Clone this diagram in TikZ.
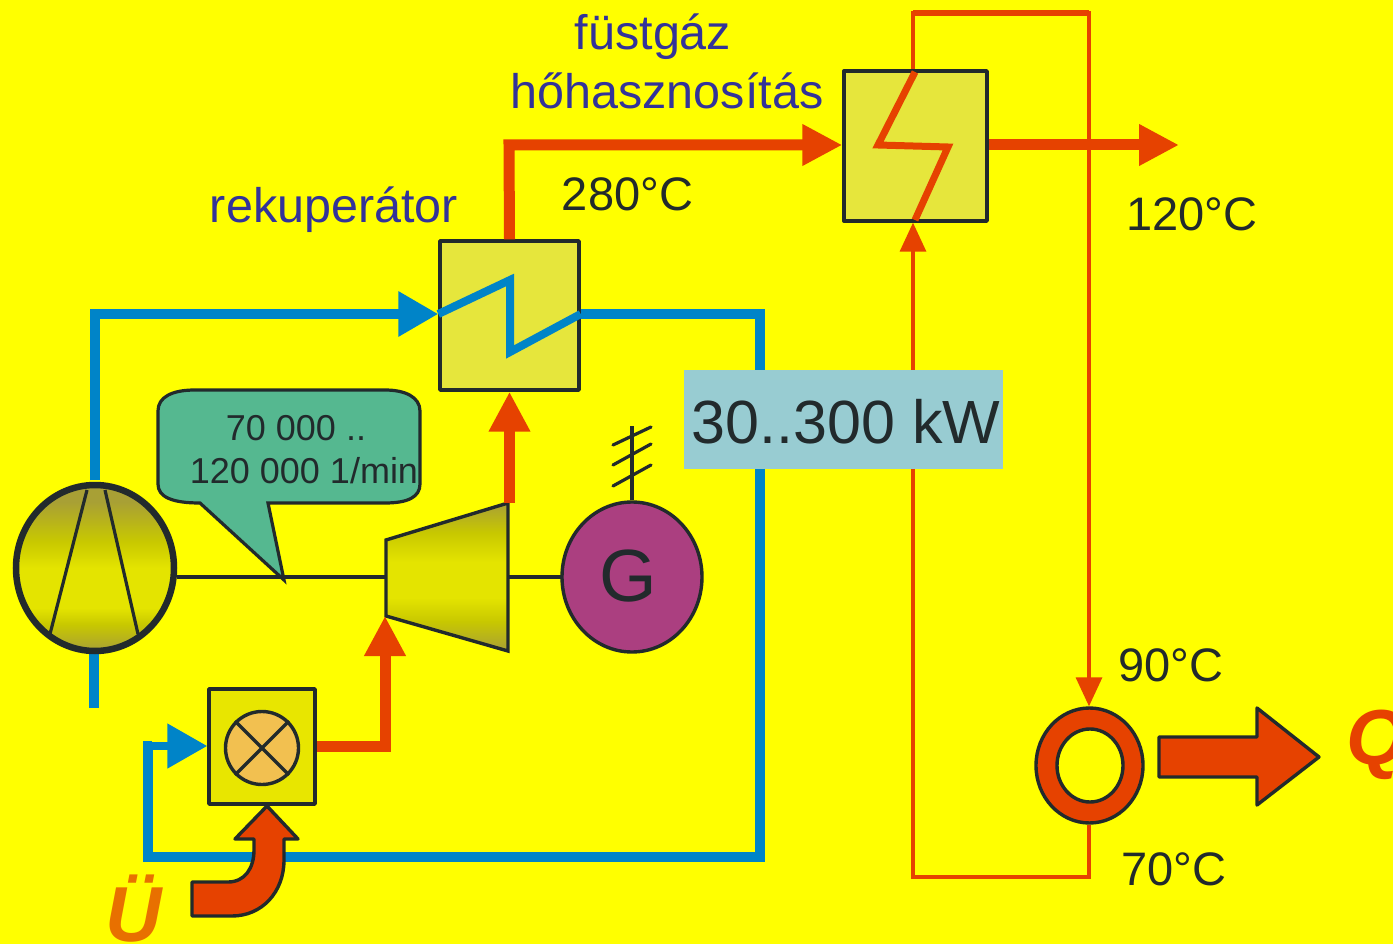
\documentclass[tikz,border=0pt]{standalone}
\usepackage{fontspec}
\setmainfont{Liberation Sans}
\usetikzlibrary{arrows.meta,shapes.geometric,calc}
\definecolor{bgy}{HTML}{FFFF00}
\definecolor{ink}{HTML}{222A2C}
\definecolor{hot}{HTML}{E64200}
\definecolor{cold}{HTML}{0084C8}
\definecolor{hxfill}{HTML}{E6E63C}
\definecolor{captc}{HTML}{333399}
\definecolor{oa}{HTML}{A8A035}
\definecolor{ob}{HTML}{C8C800}
\definecolor{oc}{HTML}{E4E400}
\definecolor{cmbfill}{HTML}{E8E600}
\definecolor{callf}{HTML}{55B890}
\definecolor{genf}{HTML}{AB3F80}
\definecolor{brnf}{HTML}{F2C050}
\definecolor{powf}{HTML}{98CCD2}
\definecolor{uc}{HTML}{E87000}
\pgfdeclareverticalshading{olivebar}{100bp}{color(0bp)=(oa); color(25bp)=(oa); color(35bp)=(ob); color(43bp)=(oc); color(55bp)=(oc); color(65bp)=(ob); color(75bp)=(oa); color(100bp)=(oa)}
\pgfdeclareverticalshading{oliveball}{100bp}{color(0bp)=(oa); color(25bp)=(oa); color(33bp)=(ob); color(38bp)=(oc); color(50bp)=(oc); color(58bp)=(ob); color(70bp)=(oa); color(100bp)=(oa)}
\tikzset{
  x=1pt,y=-1pt,
  box/.style={draw=ink,line width=3.4pt,rectangle,inner sep=0pt,line join=round},
  hx/.style={box,fill=hxfill},
  lab/.style={text=ink,inner sep=0pt,font=\fontsize{47}{47}\selectfont},
  captl/.style={text=captc,inner sep=0pt,font=\fontsize{48.5}{48.5}\selectfont},
  big/.style={inner sep=0pt,font=\bfseries\itshape\fontsize{78}{78}\selectfont},
  coldl/.style={draw=cold,line width=9.5pt},
  coldi/.style={draw=cold,line width=8pt},
  hotl/.style={draw=hot,line width=11pt},
  hoti/.style={draw=hot,line width=7pt},
  thinl/.style={draw=hot,line width=3.4pt},
  hdc/.style={-{Triangle[length=40pt,width=43pt,fill=cold]}},
  hdh/.style={-{Triangle[length=40pt,width=39pt,fill=hot]}},
  hdt/.style={-{Triangle[length=29pt,width=26pt,fill=hot]}},
  shaft/.style={draw=ink,line width=3.2pt},
  outl/.style={draw=ink,line width=3.4pt,fill=hot,line join=round},
}
\begin{document}
\begin{tikzpicture}
\useasboundingbox (0,0) rectangle (1393,944);
\clip (0,0) rectangle (1393,944);
\fill[bgy] (0,0) rectangle (1393,944);

% named points of the routes
\coordinate (cout) at (94,480);
\coordinate (cin0) at (94,652);
\coordinate (cin) at (94,708);
\coordinate (bl1) at (95,314);
\coordinate (bl2) at (760,314);
\coordinate (bl3) at (760,857);
\coordinate (bl4) at (148,857);
\coordinate (bl5) at (148,746);
\coordinate (rd1) at (509,145);
\coordinate (rd2) at (385,746);
\coordinate (rdE) at (1179,145);
\coordinate (th1) at (913,13);
\coordinate (th2) at (1089,13);
\coordinate (th3) at (1089,877);
\coordinate (th4) at (913,877);

% nodes
\node[hx,minimum width=139pt,minimum height=149pt] (rek) at (509.5,315.5) {};
\node[hx,minimum width=143pt,minimum height=150pt] (fus) at (915.5,146) {};
\node[box,fill=cmbfill,minimum width=106pt,minimum height=115pt] (cmb) at (262,746.5) {};
\node[ellipse,draw=ink,line width=3.4pt,fill=hot,minimum width=107pt,minimum height=115pt,inner sep=0pt] (ring) at (1089.5,765.5) {};
\node[ellipse,draw=ink,line width=3.4pt,fill=bgy,minimum width=66pt,minimum height=73pt,inner sep=0pt] (hole) at (1090,765.5) {};
\coordinate (tA) at (386,540);
\coordinate (tB) at (508,503);
\coordinate (tC) at (508,651);
\coordinate (tD) at (386,616);
\coordinate (shA) at (386,577);
\coordinate (shB) at (508,577);

% cold loop
\draw[coldl,line join=miter,hdc] (cout-|bl1) -- (bl1) -- (rek.west|-bl1);
\draw[coldl] (rek.east|-bl2) -- (bl2) -- (bl3) -- (bl4) -- (bl5) -- ++(4,0);
\draw[coldi,hdc] (bl5) -- (cmb.west|-bl5);
\draw[coldl] (cin0) -- (cin);
% water loop
\draw[thinl,hdt] (fus.north-|th1) -- (th1) -- (th2) -- (ring.north-|th2);
\draw[thinl,hdt] (ring.south-|th3) -- (th3) -- (th4) -- (fus.south-|th4);
\draw[draw=hot,line width=6pt] (th1) -- (th2);

% shaft
\node[ellipse,draw=ink,line width=6.5pt,shading=oliveball,minimum width=158pt,minimum height=166pt,inner sep=0pt] (cmp) at (95,568) {};
\draw[shaft] (cmp.east|-shA) -- (shA);
\draw[shaft] (shB) -- (562,577);
\draw[draw=ink,line width=3.2pt] (87,490) -- (50,634) (105,490) -- (138,634);

% callout
\draw[draw=ink,line width=3.2pt,fill=callf,line join=miter]
  (200,503) -- (284,580) -- (268,503) -- (385,503)
  .. controls (408,503) and (420,497) .. (420,484) -- (420,411)
  .. controls (420,397) and (405,390) .. (385,390) -- (195,390)
  .. controls (172,390) and (158,397) .. (158,411) -- (158,484)
  .. controls (158,497) and (172,503) .. (200,503) -- cycle;
\node[lab,font=\fontsize{36}{36}\selectfont] (sp1) at (296,428) {70 000 ..};
\node[lab,font=\fontsize{36}{36}\selectfont] (sp2) at (304,471) {120 000 1/min};

% turbine
\draw[draw=ink,line width=3.4pt,shading=olivebar,line join=miter] (tA) -- (tB) -- (tC) -- (tD) -- cycle;

% generator
\node[ellipse,draw=ink,line width=3.4pt,fill=genf,minimum width=140pt,minimum height=150pt,inner sep=0pt] (gen) at (632,577) {};
\node[inner sep=0pt,text=ink,font=\fontsize{74}{74}\selectfont] (gtx) at (628.5,576) {G};
\coordinate (ant) at (632,426);
\draw[shaft] (gen.north) -- (ant);
\draw[shaft,line cap=round] (613,445) -- (651,427) (613,465) -- (651,444) (613,486) -- (651,465);

% recuperator inner path and hot path
\draw[coldi,line join=miter] (rek.west|-bl1) -- (510,280) -- (510,352) -- (rek.east|-bl2);
\draw[hotl,hdh] (rek.south|-tB) -- (rek.south);
\draw[hotl,hdh] (rek.north) -- (rd1) -- (fus.west|-rd1);
\draw[hoti,line join=miter] (915,72) -- (878,145) -- (948,147) -- (915,220);
\draw[hotl,hdh] (fus.east|-rd1) -- (rdE);

% burner
\node[circle,draw=ink,line width=3.4pt,fill=brnf,minimum size=73pt,inner sep=0pt] (brn) at (262,748) {};
\draw[shaft] (brn.north west) -- (brn.south east) (brn.south west) -- (brn.north east);
\draw[hotl,hdh] (cmb.east|-rd2) -- (rd2) -- (tD-|rd2);

% fuel arrow
\draw[outl] (192,882) -- (228,882) .. controls (245,882) and (254,868) .. (254,850) -- (254,839) -- (235,839) -- (267,806) -- (298,839) -- (284,839) -- (284,860)
  .. controls (284,892) and (262,916) .. (232,916) -- (192,916) -- cycle;

% heat output arrow
\draw[outl] (1159,737) -- (1257,737) -- (1257,708) -- (1319,757) -- (1257,805) -- (1257,777) -- (1159,777) -- cycle;

% labels
\node[fill=powf,minimum width=319pt,minimum height=99pt,inner sep=0pt] (pow) at (843.5,419.5) {};
\node[inner sep=0pt,text=ink,font=\fontsize{61}{61}\selectfont] (powt) at (846,422) {30..300 kW};
\node[captl] (l1) at (653,37) {füstgáz};
\node[captl] (l2) at (667,91) {hőhasznosítás};
\node[captl] (l3) at (334,210) {rekuperátor};
\node[lab] (t1) at (627.5,194) {280°C};
\node[lab] (t2) at (1192,214) {120°C};
\node[lab] (t3) at (1170.5,665) {90°C};
\node[lab] (t4) at (1174,869) {70°C};
\node[big,anchor=west,text=hot] (q) at (1346,745) {Q};
\node[big,anchor=west,text=uc] (u) at (105,909) {Ü};
\end{tikzpicture}
\end{document}
